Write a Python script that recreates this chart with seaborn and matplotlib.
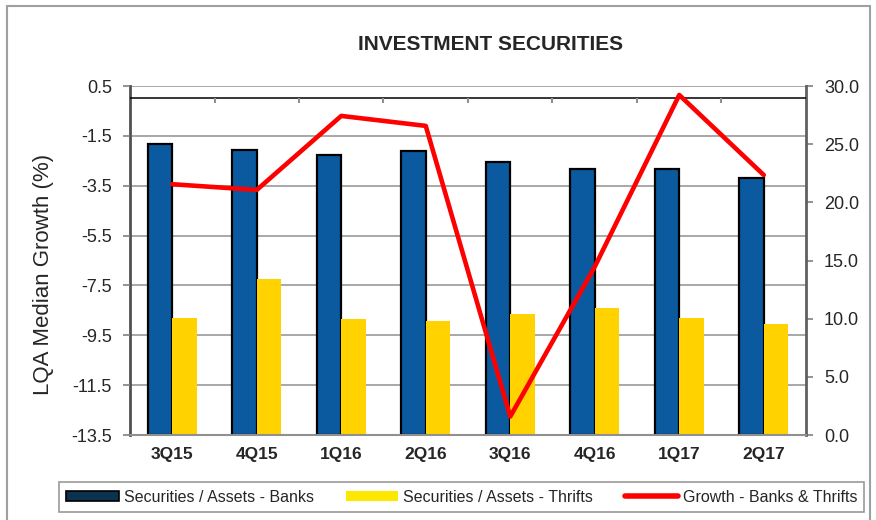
import numpy as np
import pandas as pd
import seaborn as sns
import matplotlib.pyplot as plt
from matplotlib.patches import Patch, Rectangle
from matplotlib.lines import Line2D
from matplotlib.transforms import blended_transform_factory

# values
quarters = ['3Q15', '4Q15', '1Q16', '2Q16', '3Q16', '4Q16', '1Q17', '2Q17']
banks = [25.0, 24.5, 24.1, 24.4, 23.5, 22.9, 22.9, 22.1]
thrifts = [10.1, 13.4, 9.95, 9.8, 10.4, 10.9, 10.1, 9.5]
growth = [-3.44, -3.67, -0.70, -1.10, -12.76, -6.75, 0.14, -3.07]
left_ticks = [0.5, -1.5, -3.5, -5.5, -7.5, -9.5, -11.5, -13.5]
right_ticks = [0, 5, 10, 15, 20, 25, 30]
series_names = ['Securities / Assets - Banks', 'Securities / Assets - Thrifts',
                'Growth - Banks & Thrifts']

sns.set_style('white')
plt.rcParams['font.family'] = ['Liberation Sans', 'DejaVu Sans']

fig = plt.figure(figsize=(8.76, 5.2), dpi=100)
ax = fig.add_axes([130/876, 1-435/520, 676/876, 349/520])

bars = pd.DataFrame({
    'quarter': quarters * 2,
    'value': banks + thrifts,
    'series': [series_names[0]] * 8 + [series_names[1]] * 8,
})
sns.barplot(data=bars, x='quarter', y='value', hue='series',
            palette=['#0b5aa0', '#ffd200'], saturation=1, width=0.58,
            ax=ax, legend=False)
for p in ax.containers[0]:
    p.set_edgecolor('black')
    p.set_linewidth(1.6)
for p in ax.containers[1]:
    p.set_edgecolor('none')

ax2 = ax.twinx()

# bars use the right scale, growth line the left scale
ax.yaxis.tick_right()
ax.yaxis.set_label_position('right')
ax2.yaxis.tick_left()
ax2.yaxis.set_label_position('left')

ax.set_ylim(0, 30)
ax.set_xlim(-0.5, 7.5)
ax.set_yticks(right_ticks)
ax.set_yticklabels([f'{v:.1f}' for v in right_ticks])
ax.set_xticks(range(len(quarters)))
ax.set_xticklabels(quarters, fontweight='bold', fontsize=12.5)
ax.set_xlabel('')
ax.set_ylabel('')
ax.tick_params(axis='x', length=0, pad=9)
ax.tick_params(axis='y', direction='out', length=5, width=1.2, color='#808080',
               labelsize=13, pad=8)

# gridlines follow the left scale, drawn behind the bars
trans = blended_transform_factory(ax.transAxes, ax2.transData)
for v in left_ticks:
    ax.plot([0, 1], [v, v], transform=trans, color='#a8a8a8', lw=1.4, zorder=0)

sns.lineplot(x=np.arange(len(quarters)), y=growth, ax=ax2, color='#ff0000',
             lw=3.3, zorder=5)
ax2.axhline(0, color='black', lw=1.1, zorder=3)
ax2.vlines(np.arange(0.5, 7.5), -0.2, 0, color='#909090', lw=1.5, zorder=3)

ax2.set_ylim(-13.5, 0.5)
ax2.set_xlim(-0.5, 7.5)
ax2.set_yticks(left_ticks)
ax2.set_yticklabels([f'{v:.1f}' for v in left_ticks])
ax2.set_xlabel('')
ax2.set_ylabel('LQA Median Growth (%)', fontsize=16)
ax2.yaxis.set_label_coords(-0.113, 0.46)
ax2.tick_params(axis='y', direction='out', length=5, width=1.2, color='#808080',
                labelsize=13, pad=8)

for s in ax2.spines.values():
    s.set_visible(False)
ax.spines['top'].set_visible(False)
ax.spines['left'].set_color('#505050')
ax.spines['left'].set_linewidth(2)
ax.spines['right'].set_color('#606060')
ax.spines['right'].set_linewidth(2)
ax.spines['bottom'].set_color('#909090')
ax.spines['bottom'].set_linewidth(1.5)

fig.text(0.56, 0.915, 'INVESTMENT SECURITIES', ha='center', va='center',
         fontweight='bold', fontsize=15)

fig.patches.append(Rectangle((7/876, -0.05), 863/876, 1.05 - 6/520,
                             transform=fig.transFigure, fill=False,
                             edgecolor='#a0a0a0', lw=1.5))

handles = [Patch(facecolor='#0b3350', edgecolor='black', lw=1.2),
           Patch(facecolor='#ffe800', edgecolor='none'),
           Line2D([], [], color='#ff0000', lw=4)]
leg = fig.legend(handles, series_names, loc='center',
                 bbox_to_anchor=(0.527, 0.044), ncol=3, frameon=True,
                 fancybox=False, edgecolor='#808080', fontsize=11.5,
                 handlelength=3.3, handleheight=0.55, handletextpad=0.3,
                 columnspacing=2.0, borderpad=0.45)
leg.get_frame().set_linewidth(1.2)

fig.savefig('out.png', dpi=100)
